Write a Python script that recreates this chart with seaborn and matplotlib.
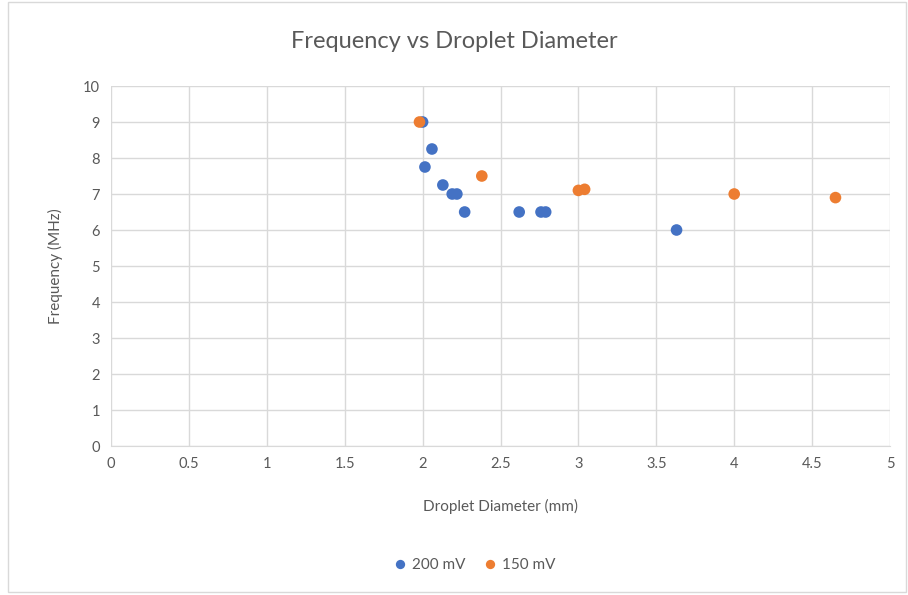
import numpy as np
import pandas as pd
import seaborn as sns
import matplotlib.pyplot as plt
from matplotlib.patches import Rectangle

# Data
diam_200 = [2.00, 2.06, 2.015, 2.13, 2.19, 2.22, 2.27, 2.62, 2.76, 2.79, 3.63]
freq_200 = [9.0, 8.25, 7.75, 7.25, 7.0, 7.0, 6.5, 6.5, 6.5, 6.5, 6.0]
diam_150 = [1.98, 2.38, 3.00, 3.04, 4.00, 4.65]
freq_150 = [9.0, 7.5, 7.1, 7.13, 7.0, 6.9]
series = ['200 mV', '150 mV']

df = pd.DataFrame({
    'diam': diam_200 + diam_150,
    'freq': freq_200 + freq_150,
    'serie': [series[0]] * len(diam_200) + [series[1]] * len(diam_150),
})

sns.set_style('white')
plt.rcParams['font.family'] = ['Lato', 'DejaVu Sans']
txt = '#595959'

fig = plt.figure(figsize=(9.08, 5.95), dpi=100)
ax = fig.add_axes([111 / 908, 1 - 446 / 595, (890 - 111) / 908, (446 - 86) / 595])

# borda do gráfico
fig.patches.append(Rectangle((8 / 908, 3 / 595), 898 / 908, 590 / 595, transform=fig.transFigure,
                             fill=False, edgecolor='#d9d9d9', linewidth=1))

sns.scatterplot(data=df, x='diam', y='freq', hue='serie', hue_order=series,
                palette=['#4472C4', '#ED7D31'], s=70, edgecolor='none', ax=ax, zorder=3)

ax.set_xlim(0, 5)
ax.set_ylim(0, 10)
ax.set_xticks(np.arange(0, 5.01, 0.5))
ax.set_xticklabels(['0', '0.5', '1', '1.5', '2', '2.5', '3', '3.5', '4', '4.5', '5'])
ax.set_yticks(range(0, 11))
ax.grid(True, color='#d9d9d9', linewidth=1)
ax.set_axisbelow(True)
for side in ['top', 'right', 'left']:
    ax.spines[side].set_visible(False)
ax.spines['bottom'].set_color('#d9d9d9')
ax.tick_params(axis='both', length=0, labelsize=10.5, labelcolor=txt, pad=8)

ax.set_xlabel('Droplet Diameter (mm)', fontsize=11, color=txt, labelpad=20)
ax.set_ylabel('Frequency (MHz)', fontsize=11, color=txt, labelpad=14)
fig.text(0.5, 1 - 42 / 595, 'Frequency vs Droplet Diameter', ha='center', va='center',
         fontsize=17, color=txt)

leg = ax.legend(loc='center', bbox_to_anchor=((470 - 111) / 779, (446 - 565) / 360), ncol=2,
                frameon=False, fontsize=11, handletextpad=-0.2, columnspacing=0.6,
                markerscale=0.8)
for t in leg.get_texts():
    t.set_color(txt)

fig.savefig('out.png', dpi=100)
